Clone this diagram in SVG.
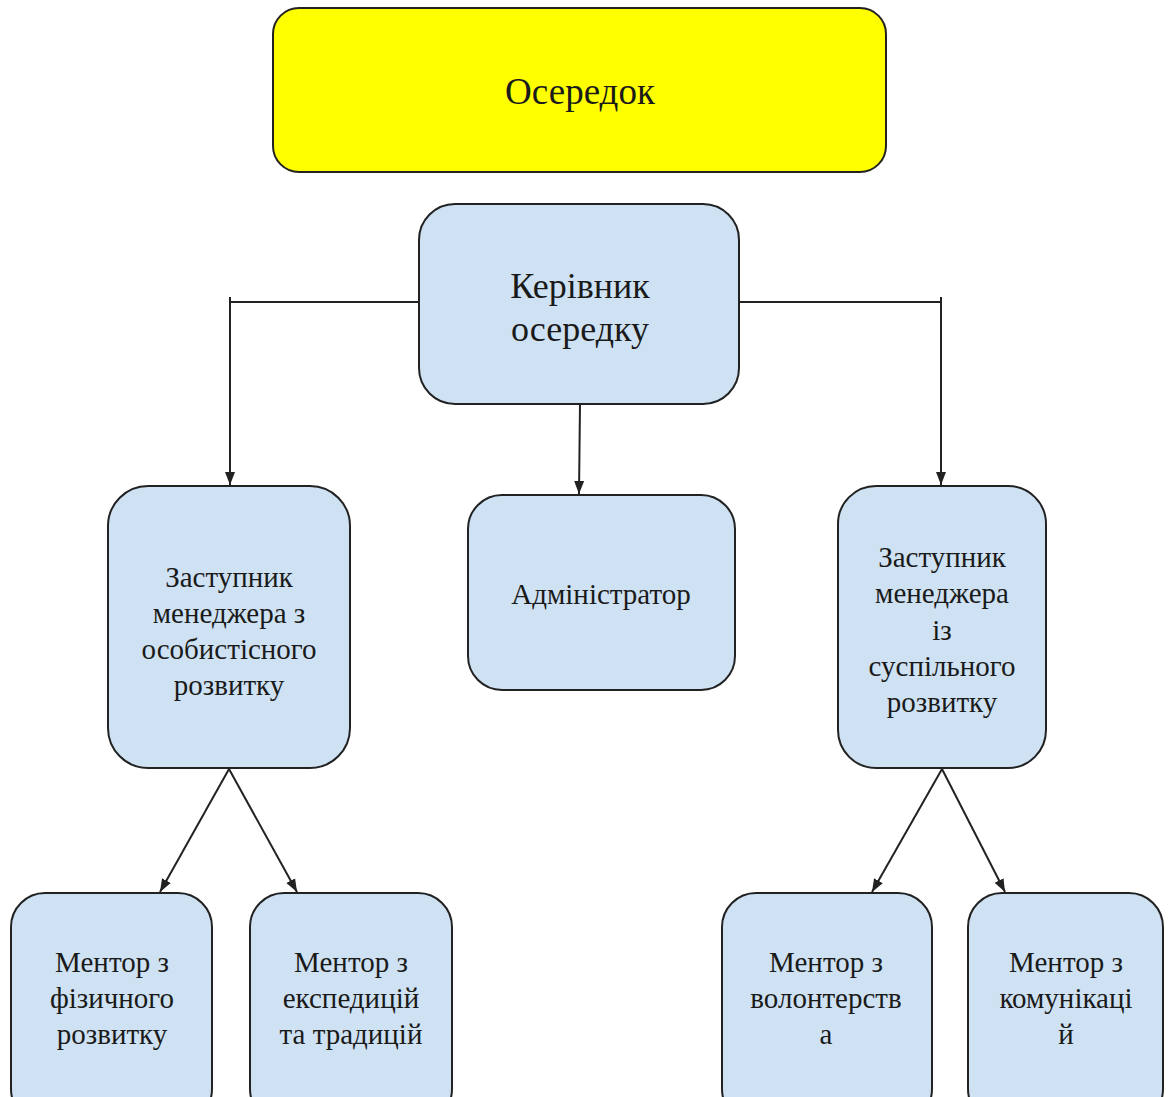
<svg xmlns="http://www.w3.org/2000/svg" width="1168" height="1097" viewBox="0 0 1168 1097">
  <style>
    .box { fill: #cfe2f3; stroke: #222; stroke-width: 2; }
    .yellow { fill: #ffff00; stroke: #222; stroke-width: 2; }
    .t { font-family: "Liberation Serif", "Times New Roman", serif; fill: #1a1a1a; text-anchor: middle; font-size: 29px; }
    .conn { fill: none; stroke: #222; stroke-width: 2; }
  </style>
  <defs>
    <marker id="arr" markerUnits="userSpaceOnUse" markerWidth="14" markerHeight="14" viewBox="0 0 14 14" refX="13" refY="7" orient="auto">
      <path d="M0,2 L13,7 L0,12 Z" fill="#222"/>
    </marker>
  </defs>
  <rect width="1168" height="1097" fill="#ffffff"/>

  <g id="connectors">
    <polyline class="conn" points="419,302 230,302 230,485" marker-end="url(#arr)"/>
    <line class="conn" x1="230" y1="297" x2="230" y2="303"/>
    <polyline class="conn" points="739,302 941,302 941,485" marker-end="url(#arr)"/>
    <line class="conn" x1="941" y1="297" x2="941" y2="303"/>
    <line class="conn" x1="580" y1="404" x2="579" y2="494" marker-end="url(#arr)"/>
    <line class="conn" x1="229" y1="769" x2="160" y2="892" marker-end="url(#arr)"/>
    <line class="conn" x1="229" y1="769" x2="297" y2="892" marker-end="url(#arr)"/>
    <line class="conn" x1="942" y1="769" x2="872" y2="892" marker-end="url(#arr)"/>
    <line class="conn" x1="942" y1="769" x2="1005" y2="892" marker-end="url(#arr)"/>
  </g>

  <g id="node-oseredok">
    <rect class="yellow" x="273" y="8" width="613" height="164" rx="26"/>
    <text class="t" x="580" y="104" style="font-size:37px">Осередок</text>
  </g>

  <g id="node-kerivnyk">
    <rect class="box" x="419" y="204" width="320" height="200" rx="36"/>
    <text class="t" x="580" y="298" style="font-size:36px">Керівник</text>
    <text class="t" x="580" y="341" style="font-size:36px">осередку</text>
  </g>

  <g id="node-zast-osob">
    <rect class="box" x="108" y="486" width="242" height="282" rx="40"/>
    <text class="t" x="229" y="587">Заступник</text>
    <text class="t" x="229" y="623">менеджера з</text>
    <text class="t" x="229" y="659">особистісного</text>
    <text class="t" x="229" y="695">розвитку</text>
  </g>

  <g id="node-admin">
    <rect class="box" x="468" y="495" width="267" height="195" rx="34"/>
    <text class="t" x="601" y="604">Адміністратор</text>
  </g>

  <g id="node-zast-susp">
    <rect class="box" x="838" y="486" width="208" height="282" rx="38"/>
    <text class="t" x="942" y="567">Заступник</text>
    <text class="t" x="942" y="603">менеджера</text>
    <text class="t" x="942" y="640">із</text>
    <text class="t" x="942" y="676">суспільного</text>
    <text class="t" x="942" y="712">розвитку</text>
  </g>

  <g id="node-mentor-fiz">
    <rect class="box" x="11" y="893" width="201" height="230" rx="34"/>
    <text class="t" x="112" y="972">Ментор з</text>
    <text class="t" x="112" y="1008">фізичного</text>
    <text class="t" x="112" y="1044">розвитку</text>
  </g>

  <g id="node-mentor-eksp">
    <rect class="box" x="250" y="893" width="202" height="230" rx="34"/>
    <text class="t" x="351" y="972">Ментор з</text>
    <text class="t" x="351" y="1008">експедицій</text>
    <text class="t" x="351" y="1044">та традицій</text>
  </g>

  <g id="node-mentor-volont">
    <rect class="box" x="722" y="893" width="210" height="230" rx="34"/>
    <text class="t" x="826" y="972">Ментор з</text>
    <text class="t" x="826" y="1008">волонтерств</text>
    <text class="t" x="826" y="1044">а</text>
  </g>

  <g id="node-mentor-komun">
    <rect class="box" x="968" y="893" width="195" height="230" rx="34"/>
    <text class="t" x="1066" y="972">Ментор з</text>
    <text class="t" x="1066" y="1008">комунікаці</text>
    <text class="t" x="1066" y="1044">й</text>
  </g>
</svg>
